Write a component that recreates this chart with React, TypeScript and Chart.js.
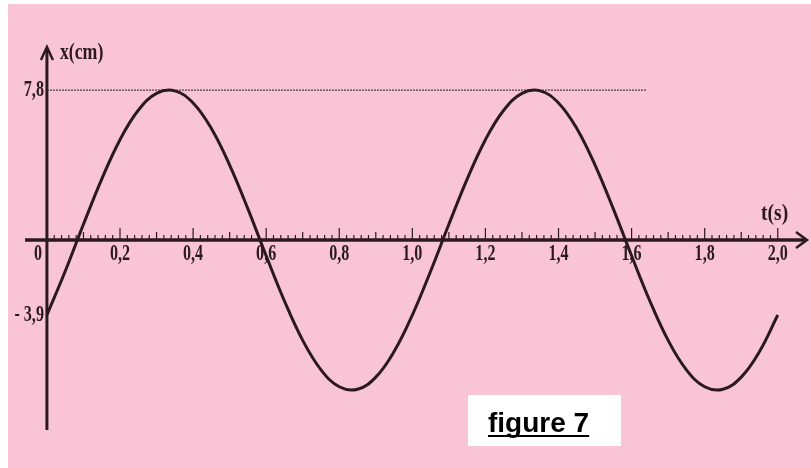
import React, { useEffect, useRef } from "react";
import { Chart, registerables } from "chart.js";

Chart.register(...registerables);

// time samples (s)
const TIMES = [
  0, 0.05, 0.1, 0.15, 0.2, 0.25, 0.3, 0.35, 0.4, 0.45, 0.5, 0.55, 0.6, 0.65, 0.7, 0.75, 0.8, 0.85, 0.9, 0.95,
  1.0, 1.05, 1.1, 1.15, 1.2, 1.25, 1.3, 1.35, 1.4, 1.45, 1.5, 1.55, 1.6, 1.65, 1.7, 1.75, 1.8, 1.85, 1.9, 1.95, 2.0,
];
// elongation x (cm)
const X_CM = [
  -3.9, -1.62, 0.82, 3.17, 5.22, 6.75, 7.63, 7.76, 7.13, 5.8, 3.9, 1.62, -0.82, -3.17, -5.22, -6.75, -7.63, -7.76, -7.13, -5.8,
  -3.9, -1.62, 0.82, 3.17, 5.22, 6.75, 7.63, 7.76, 7.13, 5.8, 3.9, 1.62, -0.82, -3.17, -5.22, -6.75, -7.63, -7.76, -7.13, -5.8,
  -3.9,
];
const X_TICK_VALUES = [0.2, 0.4, 0.6, 0.8, 1.0, 1.2, 1.4, 1.6, 1.8, 2.0];
const X_TICK_LABELS = ["0,2", "0,4", "0,6", "0,8", "1,0", "1,2", "1,4", "1,6", "1,8", "2,0"];
const Y_TICK_VALUES = [7.8, -3.9];
const Y_TICK_LABELS = ["7,8", "- 3,9"];
const AMPLITUDE_LINE_END = 1.64; // end of dotted line at 7.8
const X_AXIS_TITLE = "t(s)";
const Y_AXIS_TITLE = "x(cm)";
const FIGURE_LABEL = "figure 7";

const INK = "#2a1a20";
const PINK = "#f9c5d6";

function condText(
  ctx: CanvasRenderingContext2D,
  text: string,
  x: number,
  y: number,
  font: string,
  sx: number,
  align: CanvasTextAlign
) {
  ctx.save();
  ctx.translate(x, y);
  ctx.scale(sx, 1);
  ctx.font = font;
  ctx.textAlign = align;
  ctx.textBaseline = "middle";
  ctx.fillStyle = INK;
  ctx.fillText(text, 0, 0);
  ctx.restore();
}

const overlay = {
  id: "overlay",
  beforeDraw(chart: any) {
    const ctx: CanvasRenderingContext2D = chart.ctx;
    ctx.save();
    ctx.fillStyle = "#ffffff";
    ctx.fillRect(0, 0, chart.width, chart.height);
    ctx.fillStyle = PINK;
    ctx.fillRect(8, 4, chart.width - 8, chart.height - 4);
    ctx.restore();
  },
  beforeDatasetsDraw(chart: any) {
    const ctx: CanvasRenderingContext2D = chart.ctx;
    const xs = chart.scales.x;
    const ys = chart.scales.y;
    const area = chart.chartArea;
    const x0 = xs.getPixelForValue(0);
    const y0 = ys.getPixelForValue(0);
    ctx.save();
    ctx.lineCap = "butt";

    // dotted amplitude line
    ctx.strokeStyle = "#4a3a40";
    ctx.lineWidth = 1.2;
    ctx.setLineDash([2, 1]);
    const yA = ys.getPixelForValue(7.8);
    ctx.beginPath();
    ctx.moveTo(x0, yA);
    ctx.lineTo(xs.getPixelForValue(AMPLITUDE_LINE_END), yA);
    ctx.stroke();
    ctx.setLineDash([]);

    ctx.strokeStyle = INK;
    // y axis
    ctx.lineWidth = 3;
    ctx.beginPath();
    ctx.moveTo(x0, area.bottom);
    ctx.lineTo(x0, area.top + 1);
    ctx.stroke();
    ctx.lineWidth = 2.5;
    ctx.beginPath();
    ctx.moveTo(x0 - 6, area.top + 13);
    ctx.lineTo(x0, area.top);
    ctx.lineTo(x0 + 6, area.top + 13);
    ctx.stroke();

    // x axis
    ctx.lineWidth = 3.5;
    ctx.beginPath();
    ctx.moveTo(area.left, y0);
    ctx.lineTo(area.right - 1, y0);
    ctx.stroke();
    ctx.lineWidth = 2.5;
    ctx.beginPath();
    ctx.moveTo(area.right - 11, y0 - 8);
    ctx.lineTo(area.right, y0);
    ctx.lineTo(area.right - 11, y0 + 8);
    ctx.stroke();

    // x minor/major ticks
    ctx.lineWidth = 1.2;
    for (let i = 1; i <= 100; i++) {
      const px = xs.getPixelForValue(i * 0.02);
      const h = i % 10 === 0 ? 12 : i % 5 === 0 ? 8 : 5;
      ctx.beginPath();
      ctx.moveTo(px, y0);
      ctx.lineTo(px, y0 - h);
      ctx.stroke();
    }

    // x tick labels
    const tickFont = "bold 23px 'Liberation Serif'";
    X_TICK_VALUES.forEach((v, i) => {
      condText(ctx, X_TICK_LABELS[i], xs.getPixelForValue(v), y0 + 14, tickFont, 0.7, "center");
    });
    condText(ctx, "0", x0 - 9, y0 + 14, tickFont, 0.7, "center");

    // y tick labels
    Y_TICK_VALUES.forEach((v, i) => {
      condText(ctx, Y_TICK_LABELS[i], x0 - 3, ys.getPixelForValue(v), tickFont, 0.7, "right");
    });

    // axis titles
    condText(ctx, Y_AXIS_TITLE, x0 + 13, area.top + 6, "bold 24px 'Liberation Serif'", 0.74, "left");
    condText(ctx, X_AXIS_TITLE, area.right - 46, y0 - 26, "bold 23px 'Liberation Serif'", 0.85, "left");
    ctx.restore();
  },
  afterDatasetsDraw(chart: any) {
    const ctx: CanvasRenderingContext2D = chart.ctx;
    ctx.save();
    ctx.fillStyle = "#ffffff";
    ctx.fillRect(468, 395, 153, 51);
    ctx.font = "bold 28px 'Liberation Sans'";
    ctx.textAlign = "left";
    ctx.textBaseline = "alphabetic";
    ctx.fillStyle = "#000000";
    ctx.fillText(FIGURE_LABEL, 488, 432);
    const w = ctx.measureText(FIGURE_LABEL).width;
    ctx.fillRect(488, 435, w, 2);
    ctx.restore();
  },
};

export default function App() {
  const ref = useRef<HTMLCanvasElement | null>(null);
  useEffect(() => {
    document.body.style.margin = "0";
    const canvas = ref.current;
    if (!canvas) return;
    const chart = new Chart(canvas, {
      type: "line",
      data: {
        datasets: [
          {
            data: TIMES.map((t, i) => ({ x: t, y: X_CM[i] })),
            borderColor: INK,
            borderWidth: 3,
            pointRadius: 0,
            tension: 0.4,
            fill: false,
          },
        ],
      },
      options: {
        animation: false,
        responsive: false,
        maintainAspectRatio: false,
        layout: { padding: { left: 25, right: 4, top: 47, bottom: 38 } },
        plugins: { legend: { display: false }, tooltip: { enabled: false }, title: { display: false } },
        scales: {
          x: { type: "linear", min: -0.06, max: 2.08, display: false },
          y: { type: "linear", min: -9.88, max: 10.04, display: false },
        },
      },
      plugins: [overlay],
    });
    return () => chart.destroy();
  }, []);
  return (
    <div style={{ position: "absolute", left: 0, top: 0, width: 811, height: 468 }}>
      <canvas ref={ref} width={811} height={468} style={{ display: "block", width: 811, height: 468 }} />
    </div>
  );
}
